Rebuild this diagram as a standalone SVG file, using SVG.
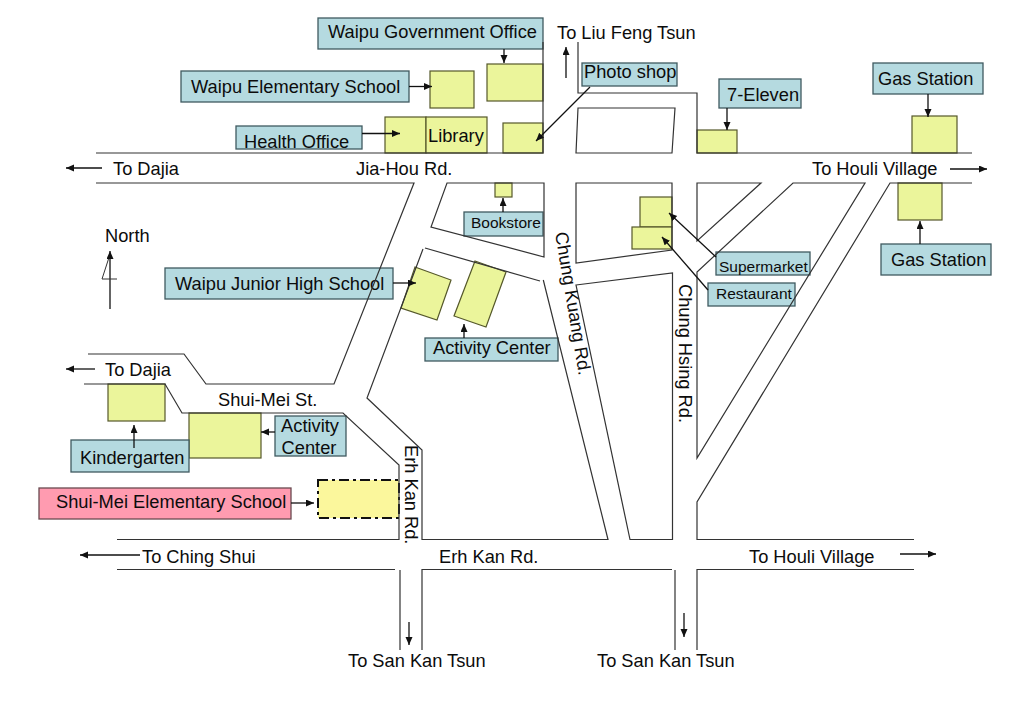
<svg xmlns="http://www.w3.org/2000/svg" width="1023" height="708" viewBox="0 0 1023 708">
<style>
text{font-family:"Liberation Sans",Arial,sans-serif;font-size:18.25px;fill:#0c0c0c}
.s{font-size:15.5px}
.l{fill:#b5dae0;stroke:#3f5a60;stroke-width:1.3}
.p{fill:#ff9bb0;stroke:#6a4a50;stroke-width:1.3}
.b{fill:#ebf59b;stroke:#55582a;stroke-width:1.2}
.r{fill:none;stroke:#333;stroke-width:1.2}
.a{fill:none;stroke:#111;stroke-width:1.3;marker-end:url(#h)}
.m{text-anchor:middle}
</style>
<defs><marker id="h" markerUnits="userSpaceOnUse" markerWidth="9" markerHeight="8" refX="8" refY="3.5" orient="auto"><path d="M0 0L8 3.5L0 7Z" fill="#111"/></marker></defs>
<rect width="1023" height="708" fill="#fff"/>
<g id="buildings">
<rect id="b-gov" class="b" x="487" y="64" width="56" height="37"/>
<rect id="b-elem" class="b" x="430" y="71" width="44" height="37"/>
<rect id="b-health" class="b" x="385" y="117" width="41" height="36"/>
<rect id="b-lib" class="b" x="426" y="117" width="61" height="36"/>
<rect id="b-photo" class="b" x="503" y="123" width="40" height="30"/>
<rect id="b-711" class="b" x="697" y="130" width="40" height="23"/>
<rect id="b-gas1" class="b" x="912" y="116" width="45" height="37"/>
<rect id="b-gas2" class="b" x="898" y="183" width="44" height="37"/>
<rect id="b-super" class="b" x="640" y="197" width="32" height="30"/>
<rect id="b-rest" class="b" x="632" y="227" width="40" height="22"/>
<rect id="b-book" class="b" x="495" y="183" width="17" height="14"/>
<rect id="b-kinder" class="b" x="108" y="384" width="57" height="37"/>
<rect id="b-act2" class="b" x="189" y="413" width="72" height="45"/>
<polygon id="b-junior" class="b" points="415,267 451,280 437,320 401,308"/>
<polygon id="b-act1" class="b" points="475,261 506,272 486,327 454,316"/>
<rect id="b-shuimei" x="318" y="480" width="81" height="38" fill="#fbf79c" stroke="#111" stroke-width="2" stroke-dasharray="10 4 3 4"/>
</g>
<g id="n-gov"><rect class="l" x="318" y="18" width="225" height="31"/><text x="328" y="38">Waipu Government Office</text></g>
<g id="n-elem"><rect class="l" x="181" y="71" width="228" height="31"/><text x="191" y="93">Waipu Elementary School</text></g>
<g id="n-health"><rect class="l" x="236" y="126" width="126" height="23"/><text x="244" y="148">Health Office</text></g>
<g id="n-lib"><text x="428" y="142">Library</text></g>
<g id="n-photo"><rect class="l" x="582" y="63" width="95" height="23"/><text x="584" y="78">Photo shop</text></g>
<g id="n-711"><rect class="l" x="719" y="79" width="82" height="29"/><text x="727" y="101">7-Eleven</text></g>
<g id="n-gas1"><rect class="l" x="873" y="63" width="110" height="31"/><text x="878" y="85">Gas Station</text></g>
<g id="n-gas2"><rect class="l" x="881" y="244" width="110" height="31"/><text x="891" y="266">Gas Station</text></g>
<g id="n-book"><rect class="l" x="464" y="212" width="79" height="24"/><text x="471" y="228" class="s">Bookstore</text></g>
<g id="n-junior"><rect class="l" x="165" y="268" width="228" height="31"/><text x="175" y="290">Waipu Junior High School</text></g>
<g id="n-act1"><rect class="l" x="425" y="338" width="133" height="23"/><text x="433" y="354">Activity Center</text></g>
<g id="n-super"><rect class="l" x="716" y="252" width="94" height="23"/><text x="719" y="272" class="s">Supermarket</text></g>
<g id="n-rest"><rect class="l" x="708" y="283" width="87" height="23"/><text x="716" y="299" class="s">Restaurant</text></g>
<g id="n-kinder"><rect class="l" x="71" y="440" width="118" height="32"/><text x="80" y="464">Kindergarten</text></g>
<g id="n-act2"><rect class="l" x="275" y="416" width="71" height="40"/><text x="310" y="432" class="m">Activity</text><text x="309" y="454" class="m">Center</text></g>
<g id="n-shuimei"><rect class="p" x="39" y="488" width="252" height="31"/><text x="56" y="508">Shui-Mei Elementary School</text></g>
<g id="roads">
<path class="r" d="M96 153H543V42"/>
<path class="r" d="M578 42V93H697V153H972"/>
<path class="r" d="M576 153L578 108H675L672 153Z"/>
<path class="r" d="M96 183H414L334 384H206L184 354H88"/>
<path class="r" d="M84 384H165L182 413H343L399 465V539.5H117"/>
<path class="r" d="M447 183H544V257L431 227Z"/>
<path class="r" d="M425 248L540 281"/>
<path class="r" d="M423 249L367 398L422 450V539.5H608L543.3 280"/>
<path class="r" d="M576 183H672V250L576 263Z"/>
<path class="r" d="M576 285L672.5 273V539.5H630Z"/>
<path class="r" d="M697 183H761L697 241Z"/>
<path class="r" d="M793 183H865L697 458V272Z"/>
<path class="r" d="M972 183H890L697 502V539.5H914"/>
<path class="r" d="M117 569.5H395"/>
<path class="r" d="M400 570V650M422 650V569.5H672M675 570V650M697 650V569.5H914"/>
</g>
<g id="connectors">
<path class="a" d="M504 49V63"/>
<path class="a" d="M409 86.5H432"/>
<path class="a" d="M362 133.5H400"/>
<path class="a" d="M590 87L536 141"/>
<path class="a" d="M727 108V130"/>
<path class="a" d="M928 94V117"/>
<path class="a" d="M920 244V221"/>
<path class="a" d="M503 212V198"/>
<path class="a" d="M393 283H416"/>
<path class="a" d="M464 338V324"/>
<path class="a" d="M716 257L669 213"/>
<path class="a" d="M708 290L662 237"/>
<path class="a" d="M134 448V425"/>
<path class="a" d="M275 432H261"/>
<path class="a" d="M291 503H314"/>
<path class="a" d="M102 168H66"/>
<path class="a" d="M95 369H66"/>
<path class="a" d="M140 555H80"/>
<path class="a" d="M950 169H987"/>
<path class="a" d="M900 554H936"/>
<path class="a" d="M566 78V47"/>
<path class="a" d="M409 622V645"/>
<path class="a" d="M684 613V637"/>
<path class="a" d="M110 309V251"/>
<path fill="none" stroke="#333" d="M108.5 259L102 279H117"/>
</g>
<g id="labels">
<text x="113" y="175">To Dajia</text>
<text x="356" y="175">Jia-Hou Rd.</text>
<text x="557" y="39">To Liu Feng Tsun</text>
<text x="812" y="175">To Houli Village</text>
<text x="105" y="242">North</text>
<text x="105" y="376">To Dajia</text>
<text x="218" y="406">Shui-Mei St.</text>
<text x="142" y="563">To Ching Shui</text>
<text x="439" y="563">Erh Kan Rd.</text>
<text x="749" y="563">To Houli Village</text>
<text x="348" y="667">To San Kan Tsun</text>
<text x="597" y="667">To San Kan Tsun</text>
<text transform="translate(555,233) rotate(80.5)">Chung Kuang Rd.</text>
<text transform="translate(679,284) rotate(90)">Chung Hsing Rd.</text>
<text transform="translate(405,445) rotate(90)">Erh Kan Rd.</text>
</g>
</svg>
